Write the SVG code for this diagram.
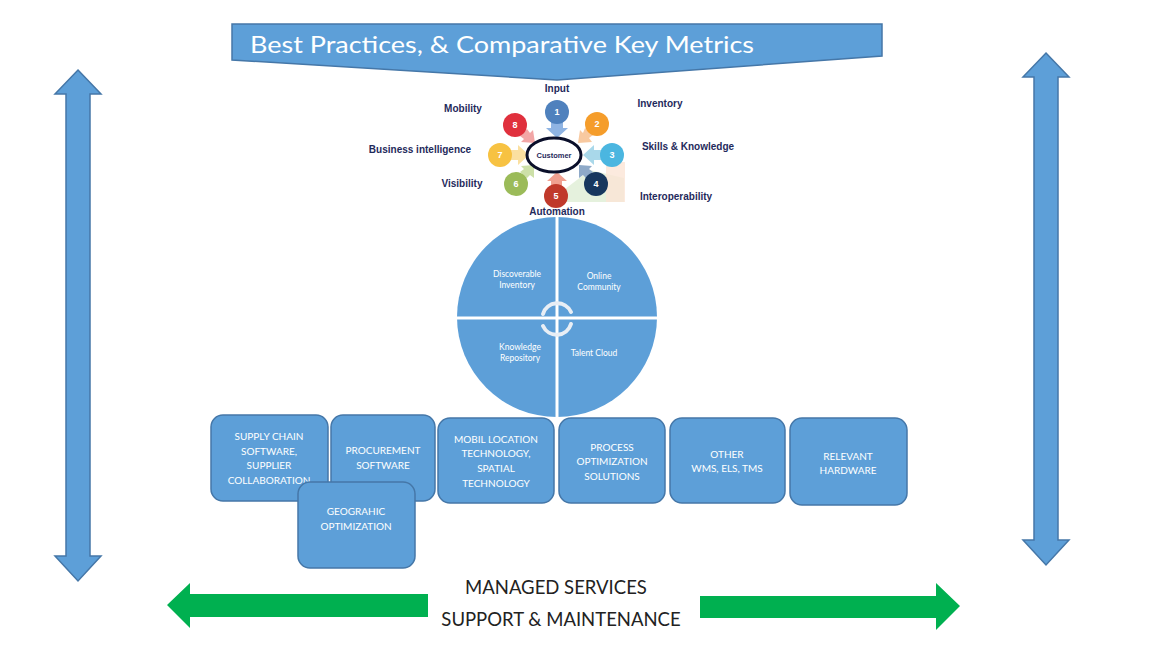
<svg xmlns="http://www.w3.org/2000/svg" width="1156" height="650" viewBox="0 0 1156 650">
  <style>
    .blue { fill: #5d9fd8; stroke: #4577a8; stroke-width: 1.5; }
    .box { fill: #5d9fd8; stroke: #4577a8; stroke-width: 1.5; }
    .boxt { font-family: Lato, "Liberation Sans", sans-serif; font-size: 10px; fill: #ffffff; text-anchor: middle; }
    .qt { font-family: Lato, "Liberation Sans", sans-serif; font-size: 8.5px; fill: #ffffff; text-anchor: middle; }
    .lbl { font-family: "Liberation Sans", Arial, sans-serif; font-size: 10px; font-weight: bold; fill: #1f2a5c; }
    .num { font-family: "Liberation Sans", Arial, sans-serif; font-size: 9px; font-weight: bold; fill: #ffffff; text-anchor: middle; }
    .green { fill: #00b050; }
    .bottomt { font-family: Lato, "Liberation Sans", sans-serif; font-size: 18.5px; fill: #222222; text-anchor: middle; }
  </style>

  <rect width="1156" height="650" fill="#ffffff"/>

  <!-- Banner -->
  <g id="banner">
    <polygon class="blue" points="232,24 882,24 882,56 557,80 232,60"/>
    <text x="250" y="53" font-family="Lato, 'Liberation Sans', sans-serif" font-size="24" fill="#ffffff" textLength="504" lengthAdjust="spacingAndGlyphs">Best Practices, &amp; Comparative Key Metrics</text>
  </g>

  <!-- Connectors / arrows -->
  <g id="connectors">
    <polygon id="left-vertical-arrow" class="blue" points="78,70 101,94 90,94 90,556 101,556 78,581 55,556 66,556 66,94 55,94"/>
    <polygon id="right-vertical-arrow" class="blue" points="1046,53 1069,77 1058,77 1058,540 1069,540 1046,565 1023,540 1034,540 1034,77 1023,77"/>
    <polygon id="left-green-arrow" class="green" points="167,605 190,583 190,594 428,594 428,617 190,617 190,628"/>
    <polygon id="right-green-arrow" class="green" points="960,606 936,583 936,596 700,596 700,618 936,618 936,630"/>
  </g>

  <!-- Customer graphic -->
  <g id="customer-wheel">
    <polygon points="548,202 624,202 624,178 590,170" fill="#e2f0d9" opacity="0.9"/>
    <rect x="606" y="162" width="19" height="40" fill="#fbe5d6" opacity="0.8"/>
    <g id="bubble-1">
      <polygon points="551,122 563,122 563,128 568,128 557,138 546,128 551,128" fill="#8fb4e3"/>
      <circle cx="557" cy="112" r="12" fill="#4f81bd"/>
      <text class="num" x="557" y="115">1</text>
    </g>
    <g id="bubble-2">
      <polygon points="585,128 593,135 589,138 592,142 578,143 580,130 583,133" fill="#f8c9a0"/>
      <circle cx="597" cy="124" r="12" fill="#f59d2b"/>
      <text class="num" x="597" y="127">2</text>
    </g>
    <g id="bubble-3">
      <polygon points="601,150 601,160 594,160 594,165 583,155 594,145 594,150" fill="#a9d8ea"/>
      <circle cx="612" cy="155" r="12" fill="#4bb6e0"/>
      <text class="num" x="612" y="158">3</text>
    </g>
    <g id="bubble-4">
      <polygon points="586,178 593,172 589,169 592,166 579,165 579,178 583,175" fill="#8ea9c8"/>
      <circle cx="596" cy="184" r="12" fill="#17375e"/>
      <text class="num" x="596" y="187">4</text>
    </g>
    <g id="bubble-5">
      <polygon points="551,186 562,186 562,181 567,181 557,172 547,181 551,181" fill="#f0a090"/>
      <circle cx="556" cy="196" r="12" fill="#c0392b"/>
      <text class="num" x="556" y="199">5</text>
    </g>
    <g id="bubble-6">
      <polygon points="527,178 520,172 524,169 521,166 534,165 534,178 530,175" fill="#cde0a8"/>
      <circle cx="516" cy="184" r="12" fill="#9bbb59"/>
      <text class="num" x="516" y="187">6</text>
    </g>
    <g id="bubble-7">
      <polygon points="511,150 511,160 518,160 518,165 529,155 518,145 518,150" fill="#fbe0a0"/>
      <circle cx="500" cy="155" r="12" fill="#f7c242"/>
      <text class="num" x="500" y="158">7</text>
    </g>
    <g id="bubble-8">
      <polygon points="527,129 520,136 524,139 521,142 535,143 533,130 530,133" fill="#f2a6a6"/>
      <circle cx="515" cy="125" r="12" fill="#e0303d"/>
      <text class="num" x="515" y="128">8</text>
    </g>
    <ellipse cx="554" cy="155" rx="27" ry="17" fill="#ffffff" stroke="#0a0f2a" stroke-width="3"/>
    <text x="554" y="158" font-family="'Liberation Sans', Arial, sans-serif" font-size="7.5" font-weight="bold" fill="#1f2a5c" text-anchor="middle">Customer</text>
  </g>

  <!-- Labels -->
  <g id="labels">
    <text class="lbl" x="557" y="92" text-anchor="middle">Input</text>
    <text class="lbl" x="463" y="112" text-anchor="middle">Mobility</text>
    <text class="lbl" x="660" y="107" text-anchor="middle">Inventory</text>
    <text class="lbl" x="420" y="153" text-anchor="middle">Business intelligence</text>
    <text class="lbl" x="688" y="150" text-anchor="middle">Skills &amp; Knowledge</text>
    <text class="lbl" x="462" y="187" text-anchor="middle">Visibility</text>
    <text class="lbl" x="676" y="200" text-anchor="middle">Interoperability</text>
    <text class="lbl" x="557" y="215" text-anchor="middle">Automation</text>
  </g>

  <!-- Central circle -->
  <g id="platform-circle">
    <circle cx="557" cy="317" r="100" fill="#5d9fd8"/>
    <line x1="557" y1="215" x2="557" y2="420" stroke="#ffffff" stroke-width="3"/>
    <line x1="455" y1="318" x2="659" y2="318" stroke="#ffffff" stroke-width="3"/>
    <text class="qt" x="517" y="277">Discoverable</text>
    <text class="qt" x="517" y="288">Inventory</text>
    <text class="qt" x="599" y="279">Online</text>
    <text class="qt" x="599" y="290">Community</text>
    <text class="qt" x="520" y="350">Knowledge</text>
    <text class="qt" x="520" y="361">Repository</text>
    <text class="qt" x="594" y="356">Talent Cloud</text>
    <g fill="none" stroke="#e8eef5" stroke-width="4" stroke-linecap="round">
      <path d="M 543 314 A 15 15 0 0 1 571 312"/>
      <path d="M 571 324 A 15 15 0 0 1 543 326"/>
    </g>
  </g>

  <!-- Boxes -->
  <g id="supply-chain">
    <rect class="box" x="211" y="415" width="117" height="86" rx="12"/>
    <text class="boxt" x="269" y="440">SUPPLY CHAIN</text>
    <text class="boxt" x="269" y="455">SOFTWARE,</text>
    <text class="boxt" x="269" y="469">SUPPLIER</text>
    <text class="boxt" x="269" y="484">COLLABORATION</text>
  </g>
  <g id="procurement">
    <rect class="box" x="331" y="415" width="104" height="86" rx="12"/>
    <text class="boxt" x="383" y="454">PROCUREMENT</text>
    <text class="boxt" x="383" y="469">SOFTWARE</text>
  </g>
  <g id="geographic">
    <rect class="box" x="298" y="482" width="117" height="86" rx="12"/>
    <text class="boxt" x="356" y="515">GEOGRAHIC</text>
    <text class="boxt" x="356" y="530">OPTIMIZATION</text>
  </g>
  <g id="mobil-location">
    <rect class="box" x="438" y="418" width="116" height="85" rx="12"/>
    <text class="boxt" x="496" y="443">MOBIL LOCATION</text>
    <text class="boxt" x="496" y="457">TECHNOLOGY,</text>
    <text class="boxt" x="496" y="472">SPATIAL</text>
    <text class="boxt" x="496" y="487">TECHNOLOGY</text>
  </g>
  <g id="process-optimization">
    <rect class="box" x="559" y="418" width="106" height="85" rx="12"/>
    <text class="boxt" x="612" y="451">PROCESS</text>
    <text class="boxt" x="612" y="465">OPTIMIZATION</text>
    <text class="boxt" x="612" y="480">SOLUTIONS</text>
  </g>
  <g id="other">
    <rect class="box" x="670" y="418" width="115" height="85" rx="12"/>
    <text class="boxt" x="727" y="458">OTHER</text>
    <text class="boxt" x="727" y="472">WMS, ELS, TMS</text>
  </g>
  <g id="relevant-hardware">
    <rect class="box" x="790" y="418" width="117" height="87" rx="12"/>
    <text class="boxt" x="848" y="460">RELEVANT</text>
    <text class="boxt" x="848" y="474">HARDWARE</text>
  </g>

  <!-- Bottom text -->
  <g id="managed-services">
    <text class="bottomt" x="556" y="594">MANAGED SERVICES</text>
    <text class="bottomt" x="561" y="626">SUPPORT &amp; MAINTENANCE</text>
  </g>
</svg>
